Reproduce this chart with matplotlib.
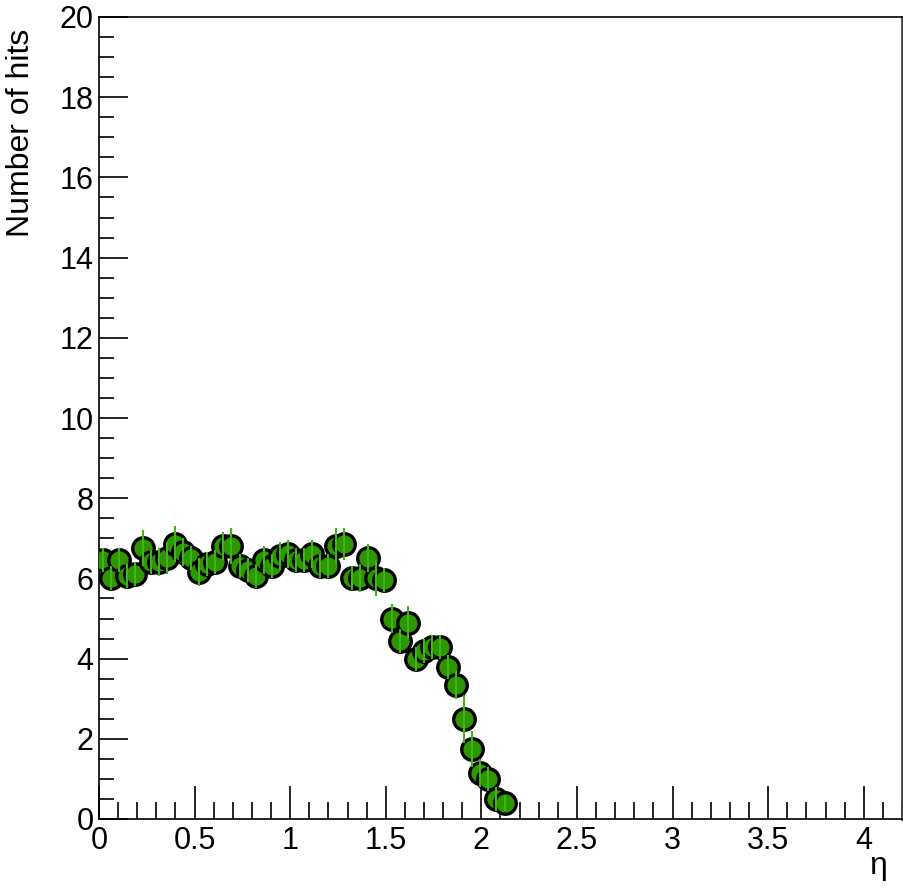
import numpy as np
import matplotlib
matplotlib.use("Agg")
import matplotlib.pyplot as plt
from matplotlib.ticker import MultipleLocator

plt.rcParams['font.family'] = ['Liberation Sans', 'DejaVu Sans']

# 100 bins in eta from 0 to 4.2, only the filled ones
bin_width = 0.042
n_hits = [6.45, 6.0, 6.45, 6.05, 6.1, 6.75, 6.4, 6.4, 6.5, 6.85,
          6.65, 6.5, 6.15, 6.35, 6.4, 6.8, 6.8, 6.3, 6.2, 6.05,
          6.45, 6.3, 6.55, 6.6, 6.45, 6.45, 6.6, 6.3, 6.3, 6.8,
          6.85, 6.0, 6.0, 6.5, 6.0, 5.95, 5.0, 4.45, 4.9, 4.0,
          4.2, 4.3, 4.3, 3.8, 3.35, 2.5, 1.75, 1.15, 1.0, 0.5,
          0.4]
err = [0.3, 0.3, 0.3, 0.3, 0.3, 0.45, 0.3, 0.35, 0.4, 0.45,
       0.35, 0.3, 0.35, 0.3, 0.3, 0.35, 0.45, 0.3, 0.3, 0.3,
       0.35, 0.3, 0.35, 0.35, 0.3, 0.3, 0.35, 0.3, 0.3, 0.45,
       0.4, 0.3, 0.35, 0.35, 0.45, 0.3, 0.35, 0.3, 0.4, 0.3,
       0.3, 0.3, 0.3, 0.3, 0.35, 0.6, 0.45, 0.35, 0.3, 0.3,
       0.2]
eta = [bin_width * (i + 0.5) for i in range(len(n_hits))]

fig = plt.figure(figsize=(9.04, 8.90), dpi=100)
ax = fig.add_axes([99/904, 71/890, 803/904, 802/890])

ax.errorbar(eta, n_hits, yerr=err, fmt='none', ecolor='#3cb814', elinewidth=1.5, zorder=4)
ax.plot(eta, n_hits, 'o', ms=15.5, mfc='#2e9600', mec='black', mew=2.4, zorder=3)

ax.set_xlim(0, 4.2)
ax.set_ylim(0, 20)
ax.xaxis.set_major_locator(MultipleLocator(0.5))
ax.xaxis.set_minor_locator(MultipleLocator(0.1))
ax.yaxis.set_major_locator(MultipleLocator(2))
ax.yaxis.set_minor_locator(MultipleLocator(0.5))
ax.tick_params(which='both', direction='in', top=False, right=False, labelsize=22, width=1.2)
ax.tick_params(axis='x', which='major', length=24, pad=5)
ax.tick_params(axis='x', which='minor', length=12)
ax.tick_params(axis='y', which='major', length=21, pad=4)
ax.tick_params(axis='y', which='minor', length=11)
ax.xaxis.set_major_formatter(matplotlib.ticker.FuncFormatter(lambda v, p: ('%g' % v)))
ax.yaxis.set_major_formatter(matplotlib.ticker.FuncFormatter(lambda v, p: ('%g' % v)))
for s in ax.spines.values():
    s.set_linewidth(1.2)
ax.spines['right'].set_color('#444444')
ax.spines['right'].set_linewidth(2)

ax.set_ylabel('Number of hits', fontsize=23)
ax.yaxis.set_label_coords(-0.078, 0.855)
ax.set_xlabel('η', fontsize=23)
ax.xaxis.set_label_coords(0.97, -0.04)

fig.savefig('out.png', dpi=100)
